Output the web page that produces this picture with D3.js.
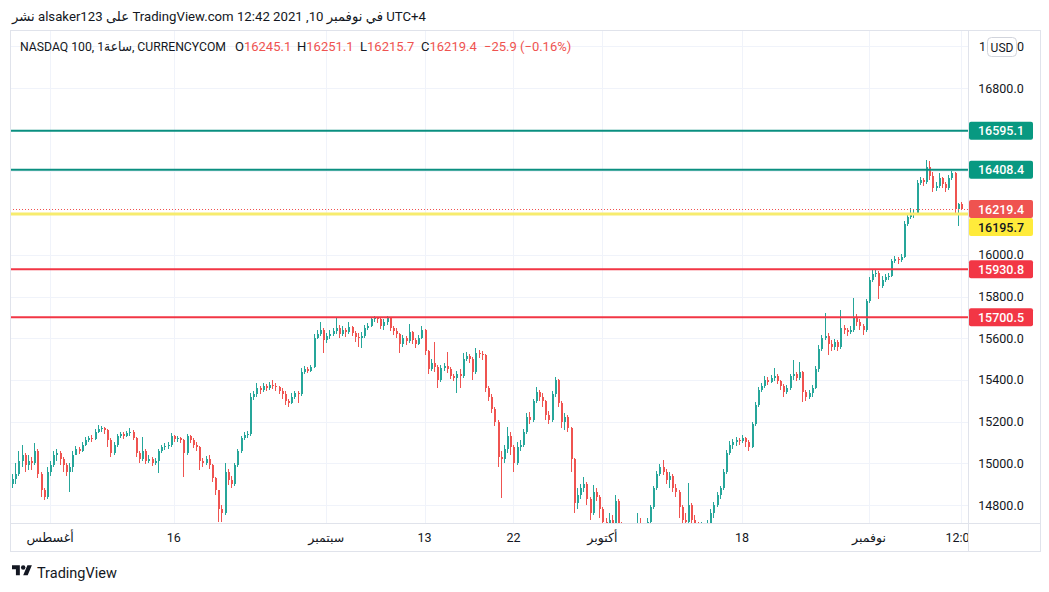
<!DOCTYPE html>
<html><head><meta charset="utf-8">
<script src="https://cdn.jsdelivr.net/npm/d3@7"></script>
<style>html,body{margin:0;padding:0;background:#fff;} svg{display:block;}</style>
</head><body>
<svg id="c" width="1049" height="592"></svg>
<script>
// ---------- DATA ----------
const opens = [
14900,14925,14950,15010,15040,14990,15010,15000,15060,14950,
14870,14840,14960,14990,15040,15050,15020,14990,14960,14980,
15040,15070,15060,15090,15110,15120,15115,15150,15165,15170,
15160,15110,15050,15090,15130,15140,15130,15145,15150,15120,
15050,15020,15060,15010,15020,15000,15010,15060,15080,15085,
15090,15130,15115,15120,15110,15050,15130,15110,15090,15080,
15010,15000,15020,14990,14930,14870,14780,14760,14960,14920,
14900,14990,15060,15120,15135,15140,15320,15330,15360,15350,
15370,15360,15375,15370,15365,15345,15330,15300,15290,15320,
15335,15330,15440,15450,15445,15460,15600,15620,15640,15590,
15610,15620,15635,15650,15620,15640,15630,15655,15625,15605,
15600,15610,15650,15660,15690,15695,15690,15660,15680,15695,
15650,15635,15620,15570,15600,15585,15630,15590,15570,15600,
15640,15540,15450,15480,15460,15400,15455,15465,15450,15420,
15410,15430,15420,15500,15515,15500,15440,15530,15525,15520,
15360,15320,15260,15200,15030,15020,15070,15130,15080,15000,
15080,15090,15150,15220,15210,15300,15340,15320,15300,15230,
15210,15330,15400,15290,15200,15220,15170,15020,14810,14850,
14880,14900,14830,14760,14860,14840,14780,14720,14700,14730,
14700,14820,14700,14680,14660,14650,14670,14690,14700,14680,
14690,14720,14790,14880,14950,14980,14960,14920,14940,14880,
14860,14790,14730,14720,14800,14730,14710,14690,14700,14680,
14710,14760,14800,14850,14880,14960,15050,15090,15100,15110,
15105,15120,15100,15080,15190,15280,15350,15370,15400,15390,
15410,15420,15395,15370,15340,15360,15420,15430,15410,15440,
15340,15320,15335,15360,15450,15550,15600,15610,15570,15560,
15580,15560,15650,15640,15630,15640,15700,15680,15660,15640,
15780,15880,15910,15915,15850,15880,15895,15900,15970,15980,
15975,15990,16150,16180,16190,16200,16345,16360,16350,16420,
16380,16320,16330,16370,16340,16320,16370,16390,16220,16245.1
];
const highs = [
14950,15000,15060,15088,15050,15040,15030,15097,15070,14960,
14880,14980,15010,15060,15069,15060,15030,15000,15000,15060,
15085,15080,15100,15125,15130,15135,15165,15184,15180,15175,
15165,15120,15100,15140,15150,15150,15155,15170,15160,15125,
15060,15125,15070,15040,15030,15025,15070,15090,15095,15100,
15146,15135,15130,15125,15115,15140,15135,15120,15100,15085,
15025,15035,15040,14995,14935,14870,14800,15000,14975,14940,
15000,15070,15130,15150,15155,15335,15345,15385,15370,15385,
15380,15390,15400,15385,15370,15360,15345,15310,15335,15345,
15345,15455,15465,15460,15470,15620,15640,15678,15650,15625,
15640,15650,15697,15665,15660,15650,15678,15660,15635,15625,
15630,15665,15675,15700,15705,15702,15695,15690,15705,15700,
15660,15650,15625,15615,15610,15666,15635,15600,15615,15660,
15645,15545,15500,15580,15470,15470,15480,15534,15460,15430,
15445,15450,15530,15535,15525,15510,15553,15545,15540,15525,
15370,15330,15270,15210,15060,15090,15175,15150,15090,15100,
15110,15165,15240,15245,15310,15366,15350,15335,15305,15250,
15345,15414,15405,15300,15240,15230,15175,15025,14880,14900,
14935,14910,14840,14896,14880,14850,14790,14740,14760,14750,
14848,14830,14720,14700,14690,14700,14710,14760,14740,14710,
14740,14800,14890,14965,14995,15016,14975,14960,14950,14900,
14870,14800,14760,14905,14810,14750,14720,14720,14710,14730,
14780,14815,14860,14890,14975,15065,15105,15115,15125,15120,
15135,15125,15110,15200,15295,15365,15385,15420,15414,15425,
15455,15430,15400,15380,15375,15430,15495,15440,15485,15445,
15350,15350,15375,15465,15565,15615,15720,15625,15590,15595,
15590,15735,15665,15650,15660,15793,15715,15690,15670,15790,
15895,15925,15930,15920,15900,15910,15915,15980,15995,15990,
16005,16160,16195,16225,16215,16360,16375,16370,16455,16450,
16395,16350,16392,16375,16350,16385,16400,16395,16250,16251.1
];
const lows = [
14880,14900,14940,14980,14960,14970,14970,14990,14930,14840,
14824,14830,14940,14980,15010,14990,14960,14940,14862,14960,
15040,15045,15055,15085,15100,15100,15110,15145,15150,15140,
15078,15030,15040,15080,15120,15115,15125,15130,15110,15030,
15000,15010,14995,15000,14985,14990,14953,15050,15065,15070,
15080,15100,15100,15095,14935,15040,15095,15075,15060,14968,
14980,14990,14975,14910,14850,14718,14720,14750,14895,14880,
14890,14980,15050,15110,15120,15130,15305,15320,15330,15340,
15345,15350,15355,15345,15330,15310,15280,15270,15285,15310,
15290,15325,15430,15435,15440,15455,15595,15610,15530,15575,
15595,15610,15620,15600,15610,15605,15620,15610,15580,15560,
15555,15600,15640,15655,15680,15675,15645,15640,15665,15635,
15615,15600,15530,15560,15565,15575,15570,15555,15565,15595,
15520,15430,15445,15440,15360,15390,15445,15435,15405,15395,
15335,15360,15410,15490,15480,15400,15430,15505,15495,15340,
15300,15240,15180,14980,14833,15000,15050,15040,14960,14990,
15060,15080,15140,15190,15200,15290,15300,15270,15210,15190,
15200,15320,15270,15170,15160,15150,14960,14760,14780,14830,
14860,14800,14730,14750,14820,14740,14680,14660,14680,14670,
14700,14660,14640,14620,14610,14630,14650,14670,14650,14660,
14680,14710,14780,14870,14940,14945,14900,14880,14860,14840,
14740,14700,14690,14710,14700,14680,14660,14670,14650,14680,
14700,14740,14790,14830,14870,14950,15040,15070,15085,15090,
15095,15080,15060,15075,15180,15270,15340,15360,15375,15385,
15395,15380,15350,15320,15330,15350,15400,15395,15400,15294,
15300,15310,15320,15355,15440,15540,15590,15520,15540,15545,
15540,15550,15620,15610,15620,15630,15660,15640,15615,15630,
15770,15870,15895,15790,15840,15870,15880,15895,15960,15955,
15965,15985,16140,16170,16175,16195,16335,16330,16340,16360,
16300,16305,16320,16320,16300,16310,16360,16200,16140,16215.7
];
const closes = [
14925,14950,15010,15040,14990,15010,15000,15060,14950,14870,
14840,14960,14990,15040,15050,15020,14990,14960,14980,15040,
15070,15060,15090,15110,15120,15115,15150,15165,15170,15160,
15110,15050,15090,15130,15140,15130,15145,15150,15120,15050,
15020,15060,15010,15020,15000,15010,15060,15080,15085,15090,
15130,15115,15120,15110,15050,15130,15110,15090,15080,15010,
15000,15020,14990,14930,14870,14780,14760,14960,14920,14900,
14990,15060,15120,15135,15140,15320,15330,15360,15350,15370,
15360,15375,15370,15365,15345,15330,15300,15290,15320,15335,
15330,15440,15450,15445,15460,15600,15620,15640,15590,15610,
15620,15635,15650,15620,15640,15630,15655,15625,15605,15600,
15610,15650,15660,15690,15695,15690,15660,15680,15695,15650,
15635,15620,15570,15600,15585,15630,15590,15570,15600,15640,
15540,15450,15480,15460,15400,15455,15465,15450,15420,15410,
15430,15420,15500,15515,15500,15440,15530,15525,15520,15360,
15320,15260,15200,15030,15020,15070,15130,15080,15000,15080,
15090,15150,15220,15210,15300,15340,15320,15300,15230,15210,
15330,15400,15290,15200,15220,15170,15020,14810,14850,14880,
14900,14830,14760,14860,14840,14780,14720,14700,14730,14700,
14820,14700,14680,14660,14650,14670,14690,14700,14680,14690,
14720,14790,14880,14950,14980,14960,14920,14940,14880,14860,
14790,14730,14720,14800,14730,14710,14690,14700,14680,14710,
14760,14800,14850,14880,14960,15050,15090,15100,15110,15105,
15120,15100,15080,15190,15280,15350,15370,15400,15390,15410,
15420,15395,15370,15340,15360,15420,15430,15410,15440,15340,
15320,15335,15360,15450,15550,15600,15610,15570,15560,15580,
15560,15650,15640,15630,15640,15700,15680,15660,15640,15780,
15880,15910,15915,15850,15880,15895,15900,15970,15980,15975,
15990,16150,16180,16190,16200,16345,16360,16350,16420,16380,
16320,16330,16370,16340,16320,16370,16390,16220,16245,16219.4
];
const priceTicks = [14800,15000,15200,15400,15600,15800,16000,16200,16400,16600,16800,17000];
const timeTickIdx = [12,51,99,130,158,186,230,270,299];
const timeTickLabels = ["أغسطس","16","سبتمبر","13","22","أكتوبر","18","نوفمبر","12:00"];
const levelPrices = [16595.1,16408.4,16195.7,15930.8,15700.5];
const levelKinds = ["teal","teal","yellow","red","red"];
const lastO = 16245.1, lastH = 16251.1, lastL = 16215.7, lastC = 16219.4;
const chg = "−25.9", chgPct = "(−0.16%)";
const headerText = "نشر alsaker123 على TradingView.com في نوفمبر 10, 2021 12:42 UTC+4";
const symbolText = "NASDAQ 100, 1ساعة, CURRENCYCOM";

// ---------- LAYOUT ----------
const FONT = "Roboto, 'DejaVu Sans', sans-serif";
const L = 10, R = 968, T = 30, B = 523, OR = 1040, OB = 551;
const UP = "#26a69a", DN = "#ef5350";
const COL = {teal:"#089981", red:"#f23645", yellow:"#ffeb3b"};
const LINECOL = {teal:"#0a8f80", red:"#f23645", yellow:"#f7ec6e"};

const svg = d3.select("#c");
svg.append("rect").attr("width",1049).attr("height",592).attr("fill","#fff");

const x = d3.scaleLinear().domain([0, closes.length-1]).range([12, 961]);
const y = d3.scaleLinear().domain([14800, 16800]).range([505, 88]);

const defs = svg.append("defs");
defs.append("clipPath").attr("id","plot").append("rect").attr("x",L).attr("y",T).attr("width",R-L).attr("height",B-T);
defs.append("clipPath").attr("id","taxis").append("rect").attr("x",L).attr("y",B).attr("width",R-L).attr("height",OB-B);

// grid
const grid = svg.append("g").attr("clip-path","url(#plot)").attr("shape-rendering","crispEdges");
grid.selectAll("line.h").data(priceTicks).join("line")
  .attr("x1",L).attr("x2",R).attr("y1",d=>Math.round(y(d))+0.5).attr("y2",d=>Math.round(y(d))+0.5)
  .attr("stroke","#f0f3fa");
grid.selectAll("line.v").data(timeTickIdx).join("line")
  .attr("y1",T).attr("y2",B).attr("x1",d=>Math.round(x(d))+0.5).attr("x2",d=>Math.round(x(d))+0.5)
  .attr("stroke","#f0f3fa");

// candles
const idx = d3.range(closes.length);
const cg = svg.append("g").attr("clip-path","url(#plot)").attr("shape-rendering","crispEdges");
cg.selectAll("line.w").data(idx).join("line")
  .attr("x1",i=>Math.round(x(i))+0.5).attr("x2",i=>Math.round(x(i))+0.5)
  .attr("y1",i=>y(highs[i])).attr("y2",i=>y(lows[i]))
  .attr("stroke",i=>closes[i]>=opens[i]?UP:DN).attr("stroke-width",1);
cg.selectAll("rect.b").data(idx).join("rect")
  .attr("x",i=>Math.round(x(i))-0.5).attr("width",2)
  .attr("y",i=>y(Math.max(opens[i],closes[i])))
  .attr("height",i=>Math.max(1,Math.abs(y(opens[i])-y(closes[i]))))
  .attr("fill",i=>closes[i]>=opens[i]?UP:DN);

// level lines
const lg = svg.append("g").attr("clip-path","url(#plot)");
lg.selectAll("line").data(levelPrices).join("line")
  .attr("x1",L).attr("x2",R).attr("y1",d=>y(d)).attr("y2",d=>y(d))
  .attr("stroke",(d,i)=>LINECOL[levelKinds[i]])
  .attr("stroke-width",(d,i)=>levelKinds[i]==="yellow"?3:2);
// current price dotted line
lg.append("line").attr("x1",L).attr("x2",R).attr("y1",Math.round(y(lastC))+0.5).attr("y2",Math.round(y(lastC))+0.5)
  .attr("stroke",DN).attr("stroke-width",1).attr("stroke-dasharray","1,2");

// frame
const fr = svg.append("g").attr("shape-rendering","crispEdges").attr("fill","none").attr("stroke","#e0e3eb");
fr.append("rect").attr("x",L+0.5).attr("y",T+0.5).attr("width",OR-L).attr("height",OB-T);
fr.append("line").attr("x1",R+0.5).attr("x2",R+0.5).attr("y1",T).attr("y2",OB);
fr.append("line").attr("x1",L).attr("x2",OR).attr("y1",B+0.5).attr("y2",B+0.5);

// price boxes (levels + current price), stacked to avoid overlap
const boxes = levelPrices.map((p,i)=>({p, fill:COL[levelKinds[i]], tc: levelKinds[i]==="yellow"?"#131722":"#fff"}));
boxes.push({p:lastC, fill:DN, tc:"#fff"});
boxes.sort((a,b)=>b.p-a.p);
let prev = -1e9;
boxes.forEach(b=>{ b.cy = Math.max(y(b.p), prev+18); prev = b.cy; });

// price axis labels (those hidden behind a price box or the USD button are not drawn in full)
const AX = 1001;
const topTick = priceTicks[priceTicks.length-1];
const visibleTicks = priceTicks.filter(t => t !== topTick && !boxes.some(b => Math.abs(b.cy - y(t)) < 14));
const axisG = svg.append("g").attr("font-family",FONT).attr("font-size",12.5).attr("fill","#131722");
axisG.selectAll("text").data(visibleTicks).join("text")
  .attr("x",AX).attr("y",d=>y(d)+4.5).attr("text-anchor","middle")
  .text(d=>d3.format(".1f")(d));
// top tick: only its first and last digit peek out around the USD button
const topStr = d3.format(".1f")(topTick);
axisG.append("text").attr("x",979).attr("y",y(topTick)+4.5).text(topStr[0]);
axisG.append("text").attr("x",1024).attr("y",y(topTick)+4.5).attr("text-anchor","end").text(topStr[topStr.length-1]);

// USD button
const ub = svg.append("g");
ub.append("rect").attr("x",987.5).attr("y",37.5).attr("width",29).attr("height",19).attr("rx",4)
  .attr("fill","#fff").attr("stroke","#d1d4dc");
ub.append("text").attr("x",1002).attr("y",51.5).attr("text-anchor","middle")
  .attr("font-family",FONT).attr("font-size",12).attr("fill","#131722").text("USD");

const bg = svg.append("g");
bg.selectAll("rect").data(boxes).join("rect")
  .attr("x",969).attr("y",b=>b.cy-9).attr("width",64).attr("height",18).attr("rx",2)
  .attr("fill",b=>b.fill);
bg.selectAll("text").data(boxes).join("text")
  .attr("x",AX).attr("y",b=>b.cy+4.5).attr("text-anchor","middle")
  .attr("font-family",FONT).attr("font-size",12.5).attr("font-weight",500).attr("fill",b=>b.tc)
  .text(b=>d3.format(".1f")(b.p));

// time axis labels
svg.append("g").attr("clip-path","url(#taxis)").selectAll("text").data(timeTickIdx).join("text")
  .attr("x",d=>x(d)).attr("y",B+19).attr("text-anchor","middle")
  .attr("font-family",FONT).attr("font-size",12.5).attr("fill","#131722")
  .text((d,i)=>timeTickLabels[i]);

// header
svg.append("text").attr("x",12).attr("y",21).attr("direction","ltr")
  .attr("textLength",414).attr("lengthAdjust","spacingAndGlyphs")
  .attr("font-family",FONT).attr("font-size",13.5).attr("fill","#131722").text(headerText);

// legend
svg.append("text").attr("x",20).attr("y",51).attr("font-family",FONT).attr("font-size",13)
  .attr("fill","#131722").attr("textLength",206).attr("lengthAdjust","spacingAndGlyphs").text(symbolText);
const ohlc = [["O",lastO,235],["H",lastH,297],["L",lastL,360],["C",lastC,421]];
ohlc.forEach(([k,v,px])=>{
  const t = svg.append("text").attr("x",px).attr("y",51).attr("font-family",FONT).attr("font-size",13).attr("fill","#131722");
  t.append("tspan").text(k);
  t.append("tspan").attr("fill",DN).text(d3.format(".1f")(v));
});
svg.append("text").attr("x",484).attr("y",51).attr("font-family",FONT).attr("font-size",13)
  .attr("fill",DN).text(chg + " " + chgPct);

// bottom logo
const logo = svg.append("g").attr("transform","translate(12,563) scale(0.56)").attr("fill","#131722");
logo.append("path").attr("d","M14 22H7V11H0V4h14v18zM28 22h-8l7.5-18h8L28 22z");
logo.append("circle").attr("cx",20).attr("cy",8).attr("r",4);
svg.append("text").attr("x",37).attr("y",578).attr("font-family",FONT).attr("font-size",14.5)
  .attr("fill","#131722").text("TradingView");
</script>
</body></html>
